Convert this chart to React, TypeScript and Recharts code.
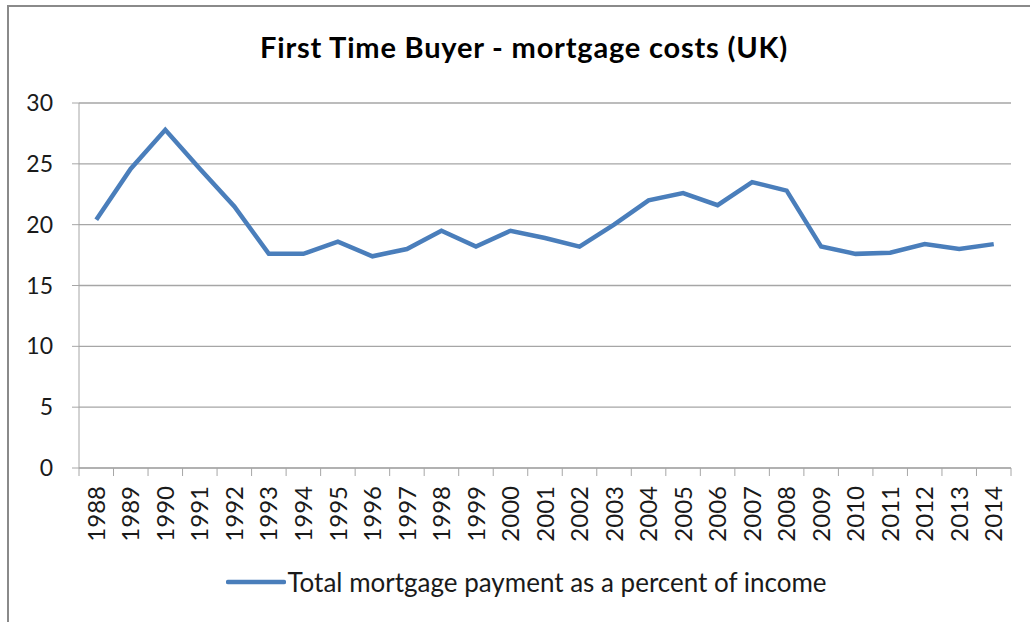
import React from 'react'
import { LineChart, Line, XAxis, YAxis, CartesianGrid, Legend } from 'recharts'

const years = [
  '1988', '1989', '1990', '1991', '1992', '1993', '1994', '1995', '1996',
  '1997', '1998', '1999', '2000', '2001', '2002', '2003', '2004', '2005',
  '2006', '2007', '2008', '2009', '2010', '2011', '2012', '2013', '2014',
]

const paymentPct = [
  20.4, 24.6, 27.8, 24.6, 21.5, 17.6, 17.6, 18.6, 17.4,
  18.0, 19.5, 18.2, 19.5, 18.9, 18.2, 20.0, 22.0, 22.6,
  21.6, 23.5, 22.8, 18.2, 17.6, 17.7, 18.4, 18.0, 18.4,
]

const yTicks = [0, 5, 10, 15, 20, 25, 30]

// Excel style category axis: tick marks on the boundaries, labels and points in the middle
const edgeTicks = [...years.map((_, i) => i), years.length]

const seriesName = 'Total mortgage payment as a percent of income'
const lineColor = '#4a7ebb'
const gridColor = '#a6a6a6'
const textColor = '#1a1a1a'
const font = 'Lato, "Open Sans", sans-serif'

const data = years.map((year, i) => ({ year, pos: i + 0.5, pct: paymentPct[i] }))

function YearTick({ x, y, width, payload }: { x?: number; y?: number; width?: number; payload?: { value: number } }) {
  const idx = payload?.value ?? 0
  if (idx >= years.length) return null
  const half = (width ?? 932) / years.length / 2
  return (
    <g transform={`translate(${(x ?? 0) + half},${y})`}>
      <text
        transform="rotate(-90)"
        x={-10}
        y={0}
        dy="0.36em"
        textAnchor="end"
        fill={textColor}
        fontSize={24}
        fontFamily={font}
      >
        {years[idx]}
      </text>
    </g>
  )
}

function LegendBox() {
  return (
    <div style={{ display: 'flex', alignItems: 'center', justifyContent: 'center', paddingLeft: 42 }}>
      <svg width={60} height={10}>
        <line x1={2} y1={5} x2={58} y2={5} stroke={lineColor} strokeWidth={4.5} strokeLinecap="round" />
      </svg>
      <span style={{ fontFamily: font, fontSize: 26, color: textColor, marginLeft: 1 }}>{seriesName}</span>
    </div>
  )
}

export default function App() {
  return (
    <div style={{ position: 'absolute', left: 0, top: 0, width: 1030, height: 622, overflow: 'hidden', background: '#fff' }}>
      <div
        style={{
          position: 'absolute',
          left: 7,
          top: 5,
          width: 1100,
          height: 700,
          border: '2.5px solid #8a8a8a',
        }}
      />
      <div
        style={{
          position: 'absolute',
          left: 0,
          top: 32,
          width: 1048,
          textAlign: 'center',
          fontFamily: font,
          fontWeight: 700,
          fontSize: 29,
          lineHeight: '29px',
          letterSpacing: 0.8,
          color: '#000',
        }}
      >
        First Time Buyer - mortgage costs (UK)
      </div>
      <div style={{ position: 'absolute', left: 0, top: 0 }}>
        <LineChart width={1030} height={622} data={data} margin={{ top: 103, right: 19, left: 0, bottom: 20 }}>
          <CartesianGrid vertical={false} stroke={gridColor} strokeWidth={1.3} />
          <XAxis
            dataKey="pos"
            type="number"
            domain={[0, years.length]}
            ticks={edgeTicks}
            interval={0}
            height={98}
            stroke={gridColor}
            tickSize={8}
            tickMargin={0}
            tick={<YearTick />}
          />
          <YAxis
            domain={[0, 30]}
            ticks={yTicks}
            width={79}
            stroke={gridColor}
            tickSize={7}
            tickMargin={19}
            tick={{ fill: textColor, fontSize: 23, fontFamily: font }}
          />
          <Legend verticalAlign="bottom" height={36} content={<LegendBox />} />
          <Line
            type="linear"
            dataKey="pct"
            name={seriesName}
            stroke={lineColor}
            strokeWidth={4.5}
            dot={false}
            isAnimationActive={false}
          />
        </LineChart>
      </div>
    </div>
  )
}
